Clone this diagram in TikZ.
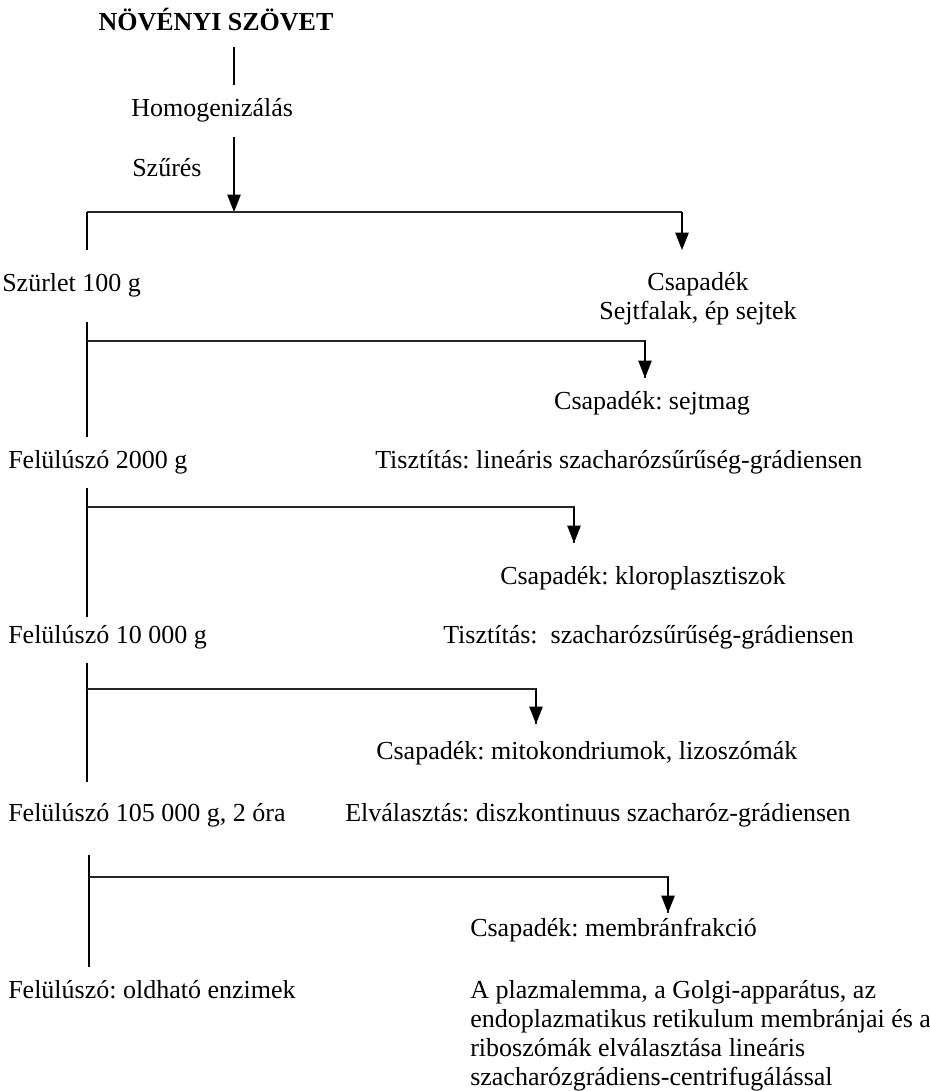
\documentclass[tikz,border=0pt]{standalone}
\usepackage{fontspec}
\setmainfont{Liberation Serif}
\frenchspacing
\usetikzlibrary{arrows.meta,positioning}
\tikzset{
  lbl/.style    ={inner sep=0pt, font=\fontsize{19.5}{21.75}\selectfont},
  lbll/.style   ={lbl, anchor=west},
  ttl/.style    ={lbl, font=\fontsize{19.5}{21.75}\selectfont\bfseries},
  para/.style   ={lbl, anchor=north west, align=left},
  stem/.style   ={line width=1.1pt, draw=black},
  branch/.style ={line width=1.3pt, draw=black!85},
  flow/.style   ={stem, -{Triangle[length=13pt,width=10pt]}}
}

\begin{document}
\begin{tikzpicture}[x=0.75pt,y=-0.75pt]
  \useasboundingbox (0,0) rectangle (930,1091);
  % texts
  \node[ttl]  (tissue) at (216,20)  {NÖVÉNYI SZÖVET};
  \node[lbll] (homog)  at (131,110) {Homogenizálás};
  \node[lbll] (filt)   at (132,168) {Szűrés};
  \node[lbll] (filtr)  at (2,285)   {Szürlet 100 g};
  \node[lbl, align=center] (pel1) at (698,299) {Csapadék\\Sejtfalak, ép sejtek};
  \node[lbl]  (pel2)   at (652,403) {Csapadék: sejtmag};
  \node[lbll] (sup1)   at (8,462)   {Felülúszó 2000 g};
  \node[lbll] (pur1)   at (375,462) {Tisztítás: lineáris szacharózsűrűség-grádiensen};
  \node[lbll] (pel3)   at (500,578) {Csapadék: kloroplasztiszok};
  \node[lbll] (sup2)   at (8,637)   {Felülúszó 10 000 g};
  \node[lbll] (pur2)   at (443,637) {Tisztítás:\ \ szacharózsűrűség-grádiensen};
  \node[lbll] (pel4)   at (376,753) {Csapadék: mitokondriumok, lizoszómák};
  \node[lbll] (sup3)   at (8,815)   {Felülúszó 105 000 g, 2 óra};
  \node[lbll] (sep)    at (345,815) {Elválasztás: diszkontinuus szacharóz-grádiensen};
  \node[lbll] (pel5)   at (470,930) {Csapadék: membránfrakció};
  \node[lbll] (sup4)   at (8,990)   {Felülúszó: oldható enzimek};
  \node[para] (note)   at (470,980) {A plazmalemma, a Golgi-apparátus, az\\
    endoplazmatikus retikulum membránjai és a\\
    riboszómák elválasztása lineáris\\
    szacharózgrádiens-centrifugálással};
  % points of the lines
  \coordinate (s0a) at (234,47);  \coordinate (s0b) at (234,85);
  \coordinate (s0c) at (234,137); \coordinate (s0d) at (234,212);
  \coordinate (b0l) at (87,212);  \coordinate (b0r) at (682,212);
  \coordinate (d0l) at (87,250);  \coordinate (d0r) at (682,250);
  \coordinate (s1a) at (87,322);  \coordinate (s1b) at (87,437);
  \coordinate (b1)  at (87,341);  \coordinate (d1)  at (645,378);
  \coordinate (s2a) at (87,488);  \coordinate (s2b) at (87,617);
  \coordinate (b2)  at (87,507);  \coordinate (d2)  at (574,543);
  \coordinate (s3a) at (87,663);  \coordinate (s3b) at (87,782);
  \coordinate (b3)  at (87,689);  \coordinate (d3)  at (536,724);
  \coordinate (s4a) at (89,855);  \coordinate (s4b) at (89,967);
  \coordinate (b4)  at (89,877);  \coordinate (d4)  at (668,913);
  % connectors
  \draw[stem] (s0a) -- (s0b);
  \draw[flow] (s0c) -- (s0d);
  \draw[branch] (b0l) -- (b0r);
  \draw[stem] (b0l) -- (d0l);
  \draw[flow] (b0r) -- (d0r);
  \draw[stem] (s1a) -- (s1b);
  \draw[branch] (b1) -| (d1);
  \draw[flow] (b1 -| d1) -- (d1);
  \draw[stem] (s2a) -- (s2b);
  \draw[branch] (b2) -| (d2);
  \draw[flow] (b2 -| d2) -- (d2);
  \draw[stem] (s3a) -- (s3b);
  \draw[branch] (b3) -| (d3);
  \draw[flow] (b3 -| d3) -- (d3);
  \draw[stem] (s4a) -- (s4b);
  \draw[branch] (b4) -| (d4);
  \draw[flow] (b4 -| d4) -- (d4);
\end{tikzpicture}
\end{document}
